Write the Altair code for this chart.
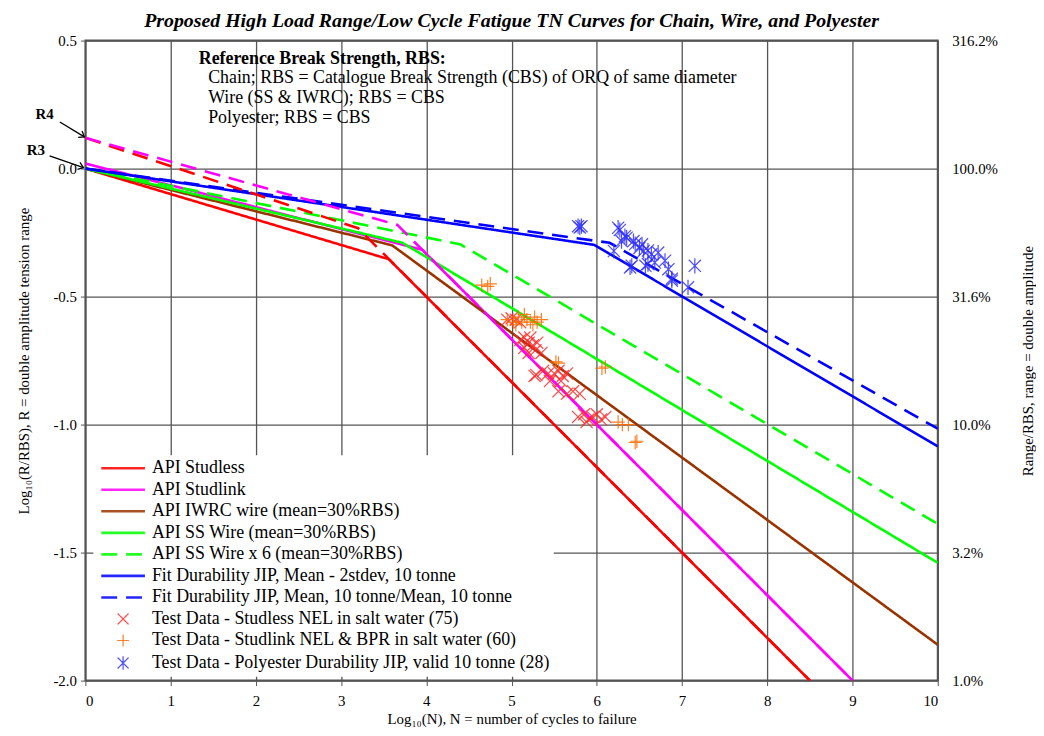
import json
import altair as alt
import pandas as pd

TITLE = "Proposed High Load Range/Low Cycle Fatigue TN Curves for Chain, Wire, and Polyester"
X_TITLE = "Log₁₀(N), N = number of cycles to failure"
Y_TITLE = "Log₁₀(R/RBS), R = double amplitude tension range"
Y2_TITLE = "Range/RBS, range = double amplitude"
FONT = "Liberation Serif"

# ---- design curves (legend entries) ----
line_names = [
    "API Studless",
    "API Studlink",
    "API IWRC wire (mean=30%RBS)",
    "API SS Wire (mean=30%RBS)",
    "API SS Wire x 6 (mean=30%RBS)",
    "Fit Durability JIP, Mean - 2stdev, 10 tonne",
    "Fit Durability JIP, Mean, 10 tonne/Mean, 10 tonne",
]
line_colors = ["#FF0000", "#FF00FF", "#993300", "#00FF00", "#00FF00", "#0000FF", "#0000FF"]
dashed_names = [line_names[4], line_names[6]]

studless_x = [0.0, 3.56, 8.5]
studless_y = [0.0, -0.354, -2.0]
studlink_x = [0.0, 3.95, 9.0]
studlink_y = [0.02, -0.317, -2.0]
iwrc_x = [0.0, 3.6, 10.0]
iwrc_y = [0.0, -0.30, -1.86]
ss_x = [0.0, 3.72, 10.0]
ss_y = [0.0, -0.29, -1.54]
ss6_x = [0.0, 4.4, 10.0]
ss6_y = [0.0, -0.296, -1.388]
fit2_x = [0.0, 5.97, 10.0]
fit2_y = [0.0, -0.298, -1.085]
fitm_x = [0.0, 6.15, 10.0]
fitm_y = [0.0, -0.29, -1.016]

# ---- R4 curves (dashed, not in legend) ----
r4_names = ["R4 Studless", "R4 Studlink"]
r4_colors = ["#FF0000", "#FF00FF"]
r4_studless_x = [0.0, 3.2, 8.5]
r4_studless_y = [0.12, -0.233, -2.0]
r4_studlink_x = [0.0, 3.66, 9.0]
r4_studlink_y = [0.12, -0.22, -2.0]

# ---- test data ----
test_names = [
    "Test Data - Studless NEL in salt water (75)",
    "Test Data - Studlink NEL & BPR in salt water (60)",
    "Test Data - Polyester Durability JIP, valid 10 tonne (28)",
]
test_colors = ["#FF2A2A", "#FF6A00", "#2E2EFF"]

studless_test_x = [4.95, 5.0, 5.05, 5.1, 5.1, 5.15, 5.2, 5.25, 5.15, 5.2, 5.28, 5.3, 5.22, 5.35,
                   5.27, 5.37, 5.43, 5.5, 5.55, 5.6, 5.65, 5.45, 5.58, 5.29, 5.55, 5.65, 5.72, 5.8,
                   5.78, 5.85, 5.9, 5.95, 6.0, 6.05, 6.1, 5.88]
studless_test_y = [-0.59, -0.585, -0.59, -0.60, -0.67, -0.66, -0.68, -0.69, -0.70, -0.72, -0.71, -0.68, -0.66, -0.72,
                   -0.81, -0.79, -0.80, -0.80, -0.79, -0.81, -0.80, -0.83, -0.83, -0.806, -0.87, -0.88, -0.87, -0.88,
                   -0.97, -0.96, -0.98, -0.97, -0.96, -0.98, -0.97, -0.99]
studlink_test_x = [4.65, 4.72, 4.75, 4.95, 5.02, 5.08, 5.12, 5.18, 5.22, 5.27, 5.3, 5.35, 5.05, 5.25, 5.15,
                   5.52, 5.55, 6.06, 6.1, 6.25, 6.3, 6.37, 6.47, 6.45]
studlink_test_y = [-0.455, -0.46, -0.45, -0.59, -0.60, -0.58, -0.60, -0.59, -0.60, -0.58, -0.60, -0.59, -0.61, -0.61, -0.57,
                   -0.755, -0.76, -0.78, -0.775, -0.99, -1.0, -1.0, -1.065, -1.07]
poly_test_x = [5.78, 5.82, 5.8, 6.25, 6.27, 6.29, 6.33, 6.43, 6.45, 6.53, 6.55, 6.6, 6.64, 6.72,
               6.2, 6.39, 6.41, 6.57, 6.6, 6.68, 6.84, 6.88, 6.88, 7.07, 7.15, 6.8, 6.35, 6.5]
poly_test_y = [-0.225, -0.225, -0.23, -0.231, -0.24, -0.283, -0.264, -0.283, -0.295, -0.296, -0.322, -0.32, -0.335, -0.328,
               -0.322, -0.386, -0.38, -0.38, -0.373, -0.367, -0.393, -0.438, -0.43, -0.464, -0.38, -0.36, -0.27, -0.31]

# ---- annotations ----
note_text = ["Reference Break Strength, RBS:",
             "Chain; RBS = Catalogue Break Strength (CBS) of ORQ of same diameter",
             "Wire (SS & IWRC); RBS = CBS",
             "Polyester; RBS = CBS"]
note_x = [1.33, 1.44, 1.44, 1.44]
note_y = [0.426, 0.353, 0.275, 0.198]
note_bold = [True, False, False, False]

tag_text = ["R4", "R3"]
tag_x = [-0.48, -0.58]
tag_y = [0.213, 0.074]
arrow_x0 = [-0.30, -0.42]
arrow_y0 = [0.182, 0.05]
arrow_x1 = [-0.012, -0.023]
arrow_y1 = [0.124, 0.004]
arrow_angle = [31, 19]

y_ticks = [-2.0, -1.5, -1.0, -0.5, 0.0, 0.5]
x_ticks = list(range(0, 11))

# ---- tables ----
curve_xy = [(studless_x, studless_y), (studlink_x, studlink_y), (iwrc_x, iwrc_y), (ss_x, ss_y),
            (ss6_x, ss6_y), (fit2_x, fit2_y), (fitm_x, fitm_y)]
rows = []
for name, (xs, ys) in zip(line_names, curve_xy):
    for i, (a, b) in enumerate(zip(xs, ys)):
        rows.append({"series": name, "x": a, "y": b, "i": i})
lines_df = pd.DataFrame(rows)

rows = []
for name, (xs, ys) in zip(r4_names, [(r4_studless_x, r4_studless_y), (r4_studlink_x, r4_studlink_y)]):
    for i, (a, b) in enumerate(zip(xs, ys)):
        rows.append({"series": name, "x": a, "y": b, "i": i})
r4_df = pd.DataFrame(rows)

rows = []
for name, (xs, ys) in zip(test_names, [(studless_test_x, studless_test_y),
                                       (studlink_test_x, studlink_test_y),
                                       (poly_test_x, poly_test_y)]):
    for a, b in zip(xs, ys):
        rows.append({"series": name, "x": a, "y": b})
pts_df = pd.DataFrame(rows)

notes_df = pd.DataFrame({"t": note_text, "x": note_x, "y": note_y, "bold": note_bold})
tags_df = pd.DataFrame({"t": tag_text, "x": tag_x, "y": tag_y})
arrows_df = pd.DataFrame({"x": arrow_x0, "y": arrow_y0, "x2": arrow_x1, "y2": arrow_y1, "ang": arrow_angle})

# ---- scales / symbols ----
all_names = line_names + test_names
LINE_PATH = "M-4,0L4,0"
X_PATH = "M-1,-1L1,1M-1,1L1,-1"
PLUS_PATH = "M-1.1,0L1.1,0M0,-1.1L0,1.1"
AST_PATH = "M-1,-1L1,1M-1,1L1,-1M0,-1.25L0,1.25"
marker_paths = [X_PATH, PLUS_PATH, AST_PATH]
DASH = [16, 9]

color_scale = alt.Scale(domain=all_names, range=line_colors + test_colors)
dash_scale = alt.Scale(domain=line_names,
                       range=[DASH if n in dashed_names else [1, 0] for n in line_names])
shape_scale = alt.Scale(domain=test_names, range=marker_paths)
xs_ = alt.Scale(domain=[0, 10], nice=False, zero=False)
ys_ = alt.Scale(domain=[-2.0, 0.5], nice=False, zero=False)

sym_expr = ("indexof(%s, datum.value) == 0 ? '%s' : indexof(%s, datum.value) == 1 ? '%s' : "
            "indexof(%s, datum.value) == 2 ? '%s' : '%s'") % (
    json.dumps(test_names), X_PATH, json.dumps(test_names), PLUS_PATH,
    json.dumps(test_names), AST_PATH, LINE_PATH)
dash_expr = "indexof(%s, datum.value) >= 0 ? %s : [1, 0]" % (json.dumps(dashed_names), json.dumps(DASH))
sw_expr = "indexof(%s, datum.value) >= 0 ? 1.2 : 2.6" % json.dumps(test_names)

legend = alt.Legend(
    title=None, orient="none", legendX=8, legendY=418, fillColor="white", padding=4,
    rowPadding=3.7, labelFont=FONT, labelFontSize=18, labelColor="black", labelLimit=0,
    symbolSize=121, symbolOffset=17, labelOffset=20,
    symbolType={"expr": sym_expr}, symbolDash={"expr": dash_expr},
    symbolStrokeWidth={"expr": sw_expr}, symbolFillColor="transparent",
)

axis_common = dict(labelFont=FONT, labelFontSize=15, labelColor="black", titleFont=FONT,
                   titleFontSize=15, titleFontWeight="normal", titleColor="black",
                   gridColor="#555555", gridWidth=1.3, tickColor="#555555", tickSize=5,
                   domain=False)

x_axis = alt.Axis(values=x_ticks, format="d", title=X_TITLE, grid=True, labelPadding=8,
                  titlePadding=3, **axis_common)
y_axis = alt.Axis(values=y_ticks, labelExpr="replace(format(datum.value, '.1f'), '\u2212', '-')",
                  title=Y_TITLE, grid=True, labelPadding=4, titlePadding=22, **axis_common)
y2_axis = alt.Axis(values=y_ticks, orient="right", title=Y2_TITLE, grid=False, ticks=False,
                   labelExpr="format(pow(10, datum.value) * 100, '.1f') + '%'",
                   labelPadding=14, titlePadding=38, titleAngle=270, **axis_common)

X = alt.X("x:Q", scale=xs_, axis=x_axis)
Xn = alt.X("x:Q", scale=xs_, axis=None)

lines = alt.Chart(lines_df).mark_line(strokeWidth=2.6, clip=True).encode(
    x=X,
    y=alt.Y("y:Q", scale=ys_, axis=y_axis),
    color=alt.Color("series:N", scale=color_scale, legend=legend),
    strokeDash=alt.StrokeDash("series:N", scale=dash_scale, legend=None),
    order="i:Q",
)

r4 = alt.Chart(r4_df).mark_line(strokeWidth=2.6, strokeDash=DASH, clip=True).encode(
    x=Xn,
    y=alt.Y("y:Q", scale=ys_, axis=y2_axis),
    stroke=alt.Stroke("series:N", scale=alt.Scale(domain=r4_names, range=r4_colors), legend=None),
    order="i:Q",
)

pts = alt.Chart(pts_df).mark_point(filled=False, size=150, strokeWidth=1.2, opacity=0.85).encode(
    x=Xn,
    y=alt.Y("y:Q", scale=ys_, axis=None),
    color=alt.Color("series:N", scale=color_scale, legend=legend),
    shape=alt.Shape("series:N", scale=shape_scale, legend=None),
)

notes_bold = alt.Chart(notes_df).transform_filter("datum.bold").mark_text(
    align="left", baseline="middle", font=FONT, fontSize=18, fontWeight="bold", color="black"
).encode(x=Xn, y=alt.Y("y:Q", scale=ys_, axis=None), text="t:N")

notes_reg = alt.Chart(notes_df).transform_filter("!datum.bold").mark_text(
    align="left", baseline="middle", font=FONT, fontSize=18, color="black"
).encode(x=Xn, y=alt.Y("y:Q", scale=ys_, axis=None), text="t:N")

tags = alt.Chart(tags_df).mark_text(
    align="center", baseline="middle", font=FONT, fontSize=15, fontWeight="bold", color="black"
).encode(x=Xn, y=alt.Y("y:Q", scale=ys_, axis=None), text="t:N")

arrow_lines = alt.Chart(arrows_df).mark_rule(color="black", strokeWidth=1.3).encode(
    x=Xn, y=alt.Y("y:Q", scale=ys_, axis=None), x2="x2:Q", y2="y2:Q")

arrow_heads = alt.Chart(arrows_df).mark_point(
    shape="M-1,-0.75L0,0L-1,0.75", filled=False, size=100, color="black", strokeWidth=1.3, opacity=1
).encode(x=alt.X("x2:Q", scale=xs_, axis=None), y=alt.Y("y2:Q", scale=ys_, axis=None),
         angle=alt.Angle("ang:Q", scale=None))

chart = alt.layer(
    lines, r4, pts, notes_bold, notes_reg, tags, arrow_lines, arrow_heads
).resolve_axis(x="independent", y="independent").properties(
    width=859, height=645,
    autosize=alt.AutoSizeParams(type="none"),
    padding={"left": 78, "top": 30, "right": 99, "bottom": 53},
    title=alt.Title(TITLE, font=FONT, fontSize=20, fontStyle="italic", fontWeight="bold",
                    color="black", anchor="middle", offset=3),
).configure_view(stroke="#555555", strokeWidth=2)

chart.save("out.html", embed_options={"renderer": "svg", "actions": False})
